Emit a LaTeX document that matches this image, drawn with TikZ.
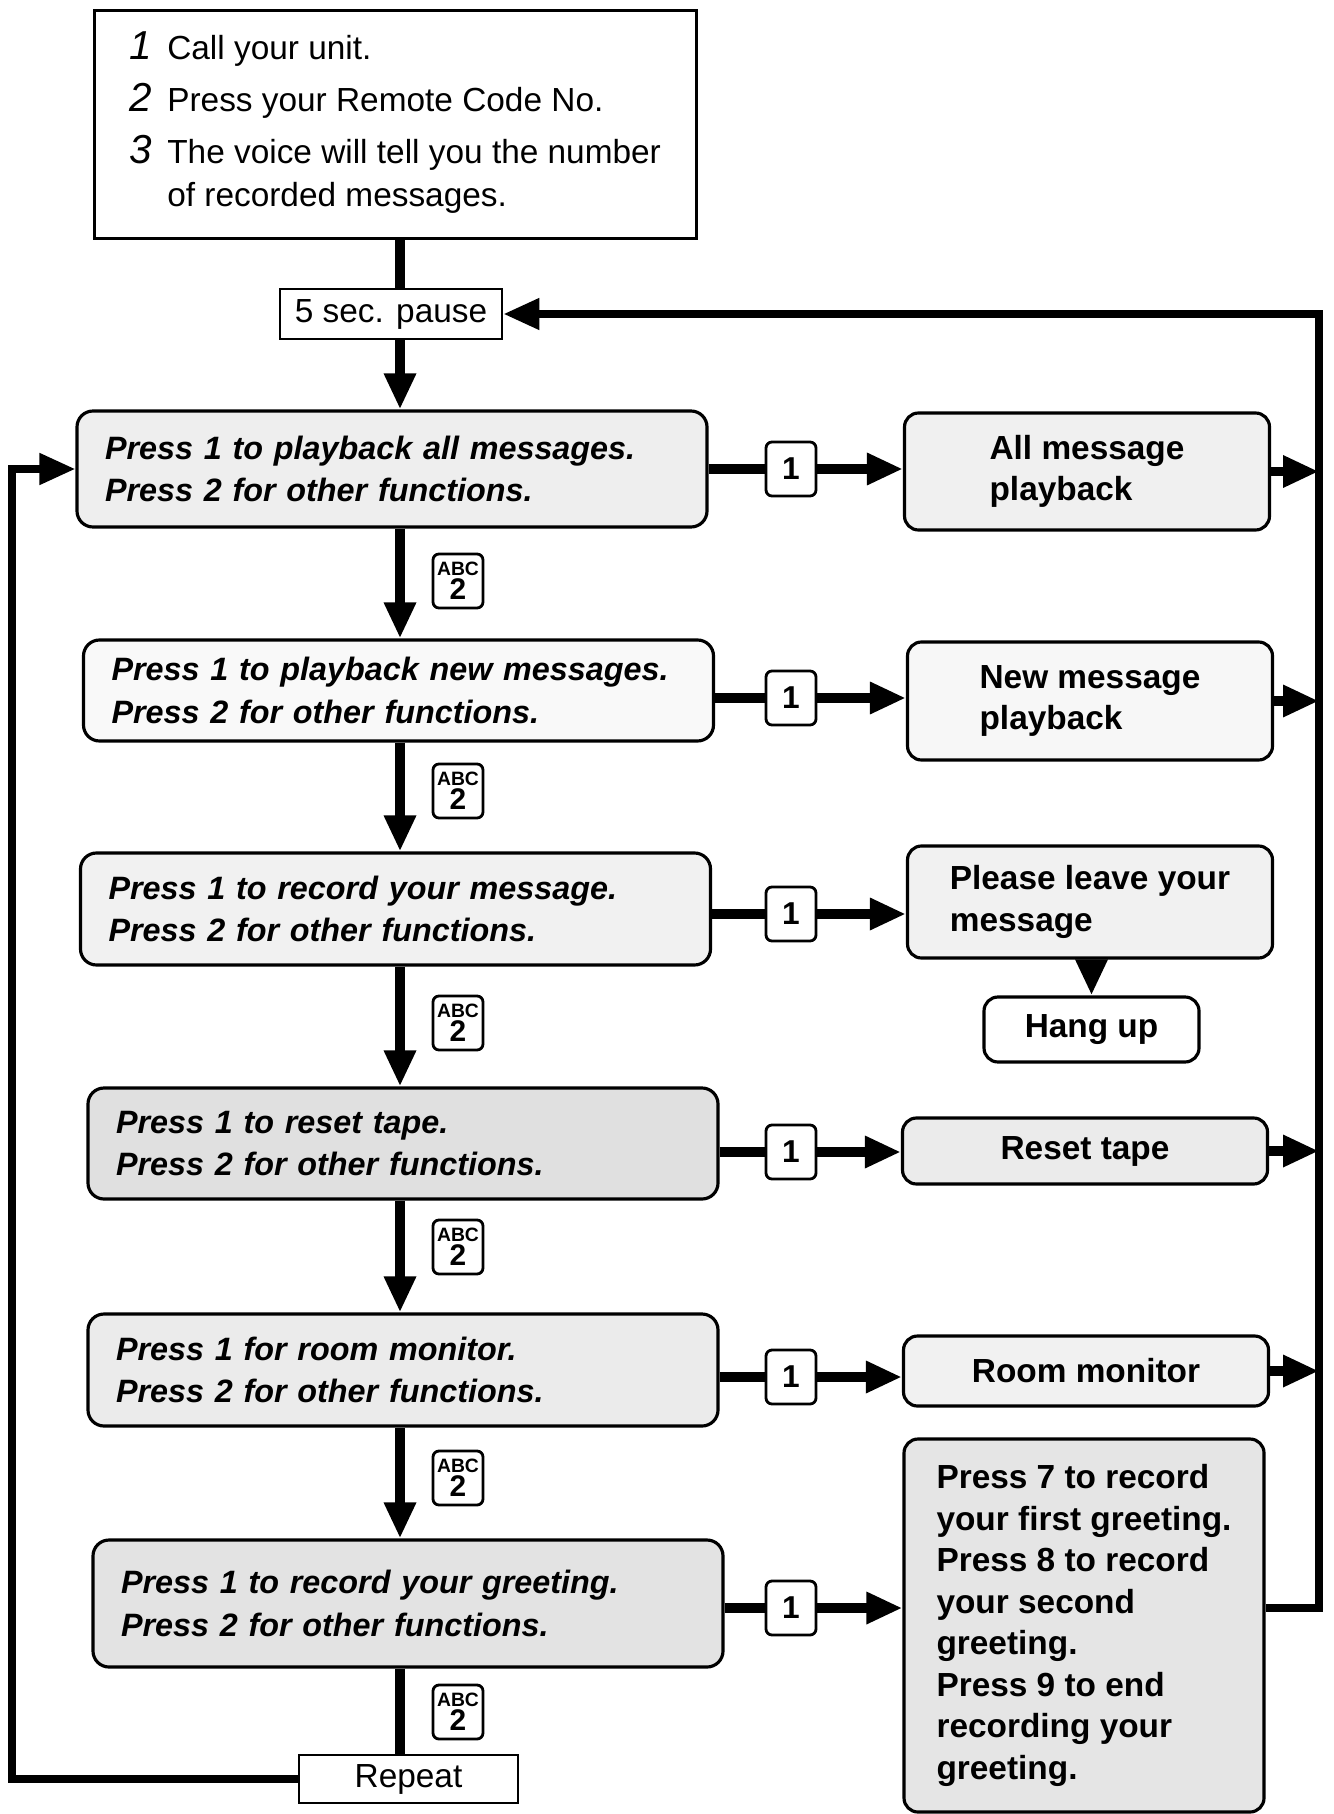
\documentclass[tikz,border=0pt]{standalone}
\usepackage{fontspec}
\setmainfont{Liberation Sans}
\usepackage{tikz}
\usetikzlibrary{positioning,arrows.meta,calc}

\newcommand{\menufont}{\fontsize{9.2}{12.0}\selectfont\bfseries\itshape}
\newcommand{\resfont}{\fontsize{9.5}{11.8}\selectfont\bfseries}
\newcommand{\stepno}[1]{{\fontsize{11.5}{12}\selectfont\itshape #1}}

\begin{document}
\begin{tikzpicture}[
  flowline/.style={line width=2.6pt},
  flow/.style={line width=2.6pt, -{Triangle[length=0.36cm,width=0.3cm]}},
  loopflow/.style={line width=2.2pt, -{Triangle[length=0.36cm,width=0.3cm]}},
  plainbox/.style={draw, line width=0.8pt, fill=white, font=\fontsize{9.5}{12.2}\selectfont},
  menubox/.style={draw, line width=0.9pt, rounded corners=0.16cm, align=left, text width=5.74cm, inner xsep=0.28cm, font=\menufont},
  resbox/.style={draw, line width=0.9pt, rounded corners=0.14cm, align=left, minimum width=3.65cm, font=\resfont},
  keybox/.style={draw, line width=0.8pt, rounded corners=0.06cm, fill=white, minimum width=0.5cm, minimum height=0.54cm, inner sep=0pt, font=\fontsize{9}{9}\selectfont\bfseries},
  abckey/.style={keybox, inner sep=1pt},
]
% Page frame
\useasboundingbox (0,0) rectangle (13.33,-18.14);
% Spines of the flow
\coordinate (spine) at (4.0,0);
\coordinate (lspine) at (0.12,0);
\coordinate (rspine) at (13.19,0);

% Opening steps
\node[plainbox, minimum width=6.02cm, minimum height=2.28cm, anchor=north west] (intro) at (0.93,-0.09) {%
  \begin{tabular}{@{}r@{\hspace{0.15cm}}l@{}}
  \stepno{1} & Call your unit.\\[2.6pt]
  \stepno{2} & Press your Remote Code No.\\[2.6pt]
  \stepno{3} & The voice will tell you the number\\
             & of recorded messages.
  \end{tabular}};
\node[plainbox, minimum width=2.22cm, minimum height=0.5cm, inner sep=0pt] (pause) at (3.91,-3.14) {5 sec. pause};

% Voice menu
\node[menubox, fill=gray!13, minimum height=1.16cm] (box1) at (3.92,-4.69)
  {Press 1 to playback all messages.\\ Press 2 for other functions.};
\node[menubox, fill=gray!5, minimum height=1.01cm] (box2) at (3.985,-6.905)
  {Press 1 to playback new messages.\\ Press 2 for other functions.};
\node[menubox, fill=gray!11, minimum height=1.12cm] (box3) at (3.955,-9.09)
  {Press 1 to record your message.\\ Press 2 for other functions.};
\node[menubox, fill=gray!24, minimum height=1.11cm] (box4) at (4.03,-11.435)
  {Press 1 to reset tape.\\ Press 2 for other functions.};
\node[menubox, fill=gray!16, minimum height=1.12cm] (box5) at (4.03,-13.70)
  {Press 1 for room monitor.\\ Press 2 for other functions.};
\node[menubox, fill=gray!22, minimum height=1.27cm] (box6) at (4.08,-16.035)
  {Press 1 to record your greeting.\\ Press 2 for other functions.};
\node[plainbox, minimum width=2.19cm, minimum height=0.48cm, inner sep=0pt] (repeat) at (4.085,-17.79) {Repeat};

% Results of pressing 1
\node[resbox, fill=gray!12, minimum height=1.17cm] (res1) at (10.87,-4.715) {All message\\ playback};
\node[resbox, fill=gray!6, minimum height=1.18cm] (res2) at (10.90,-7.01) {New message\\ playback};
\node[resbox, fill=gray!11, minimum height=1.12cm] (res3) at (10.90,-9.02) {Please leave your\\ message};
\node[resbox, fill=white, minimum width=2.15cm, minimum height=0.65cm] (hang) at (10.915,-10.295) {Hang up};
\node[resbox, fill=gray!16, minimum height=0.66cm] (res4) at (10.85,-11.51) {Reset tape};
\node[resbox, fill=gray!11, minimum height=0.70cm] (res5) at (10.86,-13.71) {Room monitor};
\node[resbox, fill=gray!20, minimum width=3.6cm, minimum height=3.73cm] (res6) at (10.84,-16.255)
  {Press 7 to record\\ your first greeting.\\ Press 8 to record\\ your second\\ greeting.\\ Press 9 to end\\ recording your\\ greeting.};

% Keys
\foreach \i/\y in {1/4.69, 2/6.98, 3/9.14, 4/11.52, 5/13.77, 6/16.08}
  \node[keybox] (key\i) at (7.91,-\y) {1};
\foreach \i/\y in {1/5.81, 2/7.91, 3/10.23, 4/12.47, 5/14.78, 6/17.12}
  \node[abckey] (abc\i) at (4.58,-\y)
    {\shortstack{\fontsize{5.5}{6}\selectfont ABC\\[-2.2pt]\fontsize{8.5}{9}\selectfont 2}};

% Main column
\draw[flowline] (intro.south -| spine) -- (pause.north -| spine);
\draw[flow] (pause.south -| spine) -- (box1.north -| spine);
\foreach \i/\j in {1/2, 2/3, 3/4, 4/5, 5/6}
  \draw[flow] (box\i.south -| spine) -- (box\j.north -| spine);
\draw[flowline] (box6.south -| spine) -- (repeat.north -| spine);

% Branches to the right
\foreach \i in {1,...,6} {
  \draw[flowline] (box\i.east |- key\i) -- (key\i.west);
  \draw[flow] (key\i.east) -- (key\i.east -| res\i.west);
}
\draw[flow] (hang.north |- res3.south) -- (hang.north);
\foreach \i in {1,2,4,5}
  \draw[flow] (res\i.east) -- (res\i.east -| rspine);

% Loops back
\draw[loopflow] (res6.east |- key6) -| (pause.east -| rspine) -- (pause.east);
\draw[loopflow] (repeat.west) -| (box1.west -| lspine) -- (box1.west);
\end{tikzpicture}
\end{document}
